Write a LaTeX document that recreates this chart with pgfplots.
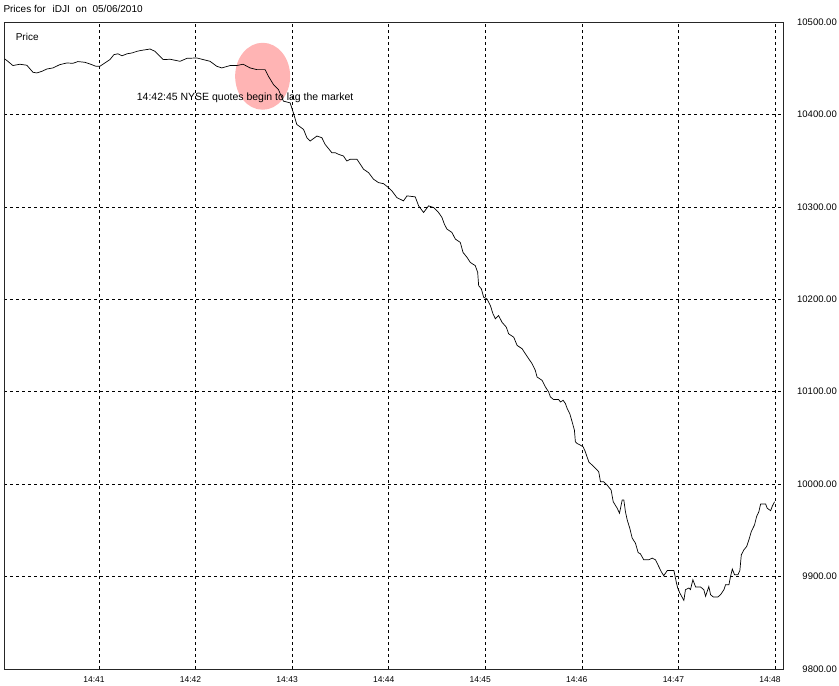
\documentclass[border=0pt]{standalone}
\usepackage{pgfplots}
\pgfplotsset{compat=1.18}
\usepackage{fontspec}
\setmainfont{Liberation Sans}
\definecolor{pinkc}{RGB}{255,180,180}
\pgfplotstableread{
s P
1.5 10460.0
3.4 10457.5
6.5 10452.9
10.9 10454.3
15.2 10453.2
19.0 10445.6
21.4 10444.9
24.6 10446.7
27.7 10449.2
31.4 10450.3
35.7 10453.9
40.1 10455.7
43.8 10455.3
46.9 10457.2
51.3 10456.4
54.4 10454.6
58.1 10452.1
60.6 10452.1
63.1 10455.0
66.8 10459.3
69.3 10464.7
71.8 10465.6
74.3 10463.4
77.4 10465.6
80.5 10466.5
83.6 10468.3
86.7 10469.4
90.5 10470.4
91.7 10470.8
94.8 10468.3
100.0 10459.3
104.2 10459.7
110.4 10457.5
114.7 10460.7
120.8 10461.1
124.9 10459.3
129.0 10457.5
133.2 10452.1
136.3 10450.3
141.5 10452.9
145.6 10452.9
149.6 10454.3
153.9 10450.3
158.1 10448.5
163.2 10448.5
165.3 10441.3
168.4 10432.4
171.5 10427.0
174.6 10414.4
178.8 10412.5
180.8 10401.7
182.9 10389.2
187.1 10383.8
189.2 10374.8
191.2 10371.2
195.4 10376.6
198.5 10374.8
200.5 10367.6
204.7 10358.6
206.8 10358.6
208.8 10356.9
211.9 10355.0
214.0 10349.6
216.1 10351.5
220.3 10351.5
224.4 10340.7
227.5 10337.0
230.6 10329.9
233.7 10326.2
236.8 10325.1
239.9 10320.8
242.0 10317.3
245.1 10310.0
249.2 10306.5
251.4 10311.9
256.5 10310.8
258.6 10301.1
261.7 10293.9
264.8 10301.1
267.9 10299.3
271.0 10293.9
273.1 10288.5
274.6 10281.3
276.2 10276.0
279.3 10272.3
281.4 10265.2
284.5 10261.5
286.2 10250.7
288.7 10245.3
290.7 10239.9
293.8 10236.4
295.3 10229.1
295.9 10214.8
297.6 10211.2
299.0 10202.2
301.1 10200.4
303.2 10193.2
304.8 10184.3
306.3 10178.9
308.3 10182.4
310.4 10175.2
313.1 10169.8
314.5 10162.7
317.7 10159.0
319.8 10150.1
322.9 10146.5
324.9 10141.1
327.0 10135.7
329.1 10130.3
331.1 10123.1
332.2 10115.9
335.3 10112.3
337.4 10105.1
339.4 10099.7
340.5 10094.3
342.5 10091.5
345.6 10091.5
346.7 10088.9
348.4 10090.7
349.8 10087.2
350.9 10081.8
352.5 10076.4
354.0 10067.3
355.4 10058.4
356.0 10045.8
357.1 10044.0
359.1 10042.2
360.8 10040.4
362.2 10035.0
364.3 10024.2
366.4 10020.6
368.5 10017.1
370.5 10013.4
371.6 10002.6
373.6 10002.6
375.7 9999.0
378.2 9993.7
379.5 9981.0
382.0 9973.9
383.4 9968.5
385.1 9982.9
386.1 9982.9
387.1 9970.2
388.2 9961.3
389.8 9952.3
391.3 9941.6
393.3 9936.2
395.0 9926.0
396.4 9924.6
398.5 9918.1
401.6 9918.1
403.7 9920.0
405.8 9918.1
407.8 9910.9
409.3 9905.5
410.9 9900.9
413.1 9906.6
417.2 9906.6
418.8 9893.0
419.6 9887.6
420.9 9882.2
421.8 9879.3
423.4 9874.2
424.4 9885.8
426.5 9887.6
427.5 9885.8
429.0 9896.6
430.7 9888.7
433.8 9888.7
435.8 9885.8
436.9 9878.6
438.9 9889.3
440.0 9880.4
441.7 9877.9
444.5 9877.9
446.2 9880.4
448.3 9885.8
449.3 9891.2
451.4 9891.2
452.4 9900.1
453.5 9908.1
454.9 9902.0
457.0 9902.0
458.2 9906.6
459.1 9923.5
460.7 9928.9
462.4 9932.5
463.8 9939.7
465.3 9948.7
467.3 9955.9
468.6 9964.9
470.0 9970.2
471.1 9978.6
474.2 9978.6
475.2 9973.9
477.3 9971.3
478.4 9976.4
479.8 9981.0
}\pricedata
\begin{document}
\begin{tikzpicture}
\useasboundingbox (-4pt,-17pt) rectangle (835pt,669pt);
\begin{axis}[
  at={(0pt,0pt)}, anchor=south west,
  scale only axis, width=779pt, height=647pt,
  xmin=1, xmax=485, ymin=9800, ymax=10500,
  scaled y ticks=false, scaled x ticks=false,
  xtick={60,120,180,240,300,360,420,480},
  xticklabels={14:41,14:42,14:43,14:44,14:45,14:46,14:47,14:48},
  ytick={9800,9900,10000,10100,10200,10300,10400,10500},
  yticklabels={9800.00,9900.00,10000.00,10100.00,10200.00,10300.00,10400.00,10500.00},
  yticklabel pos=right,
  major tick length=0pt,
  xmajorgrids, ymajorgrids,
  grid style={black, line width=0.6pt, dash pattern=on 3pt off 3pt},
  axis line style={black!85, line width=0.8pt},
  xticklabel style={font=\fontsize{8.5}{10}\selectfont, xshift=-5pt, yshift=-4pt},
  yticklabel style={font=\fontsize{9.5}{11}\selectfont, anchor=east, inner sep=0pt, xshift=54pt},
  clip=false,
]
\fill[pinkc] (axis cs:161.7,10441.3) ellipse [x radius=27.5pt, y radius=33.5pt];
\addplot[black, line width=0.7pt, mark=none] table[x=s, y=P] {\pricedata};
\node[anchor=base west, inner sep=0pt, font=\fontsize{10}{12}\selectfont] at (axis cs:8.2,10480.2) {Price};
\node[anchor=base west, inner sep=0pt, font=\fontsize{10.5}{12}\selectfont] at (axis cs:83.4,10415.1) {14:42:45 NYSE quotes begin to lag the market};
\end{axis}
\node[anchor=base west, inner sep=0pt, font=\fontsize{10}{12}\selectfont] at (-0.7pt,656.3pt) {Prices for\hspace{7pt}iDJI\hspace{3pt} on\hspace{3pt} 05/06/2010};
\end{tikzpicture}
\end{document}
